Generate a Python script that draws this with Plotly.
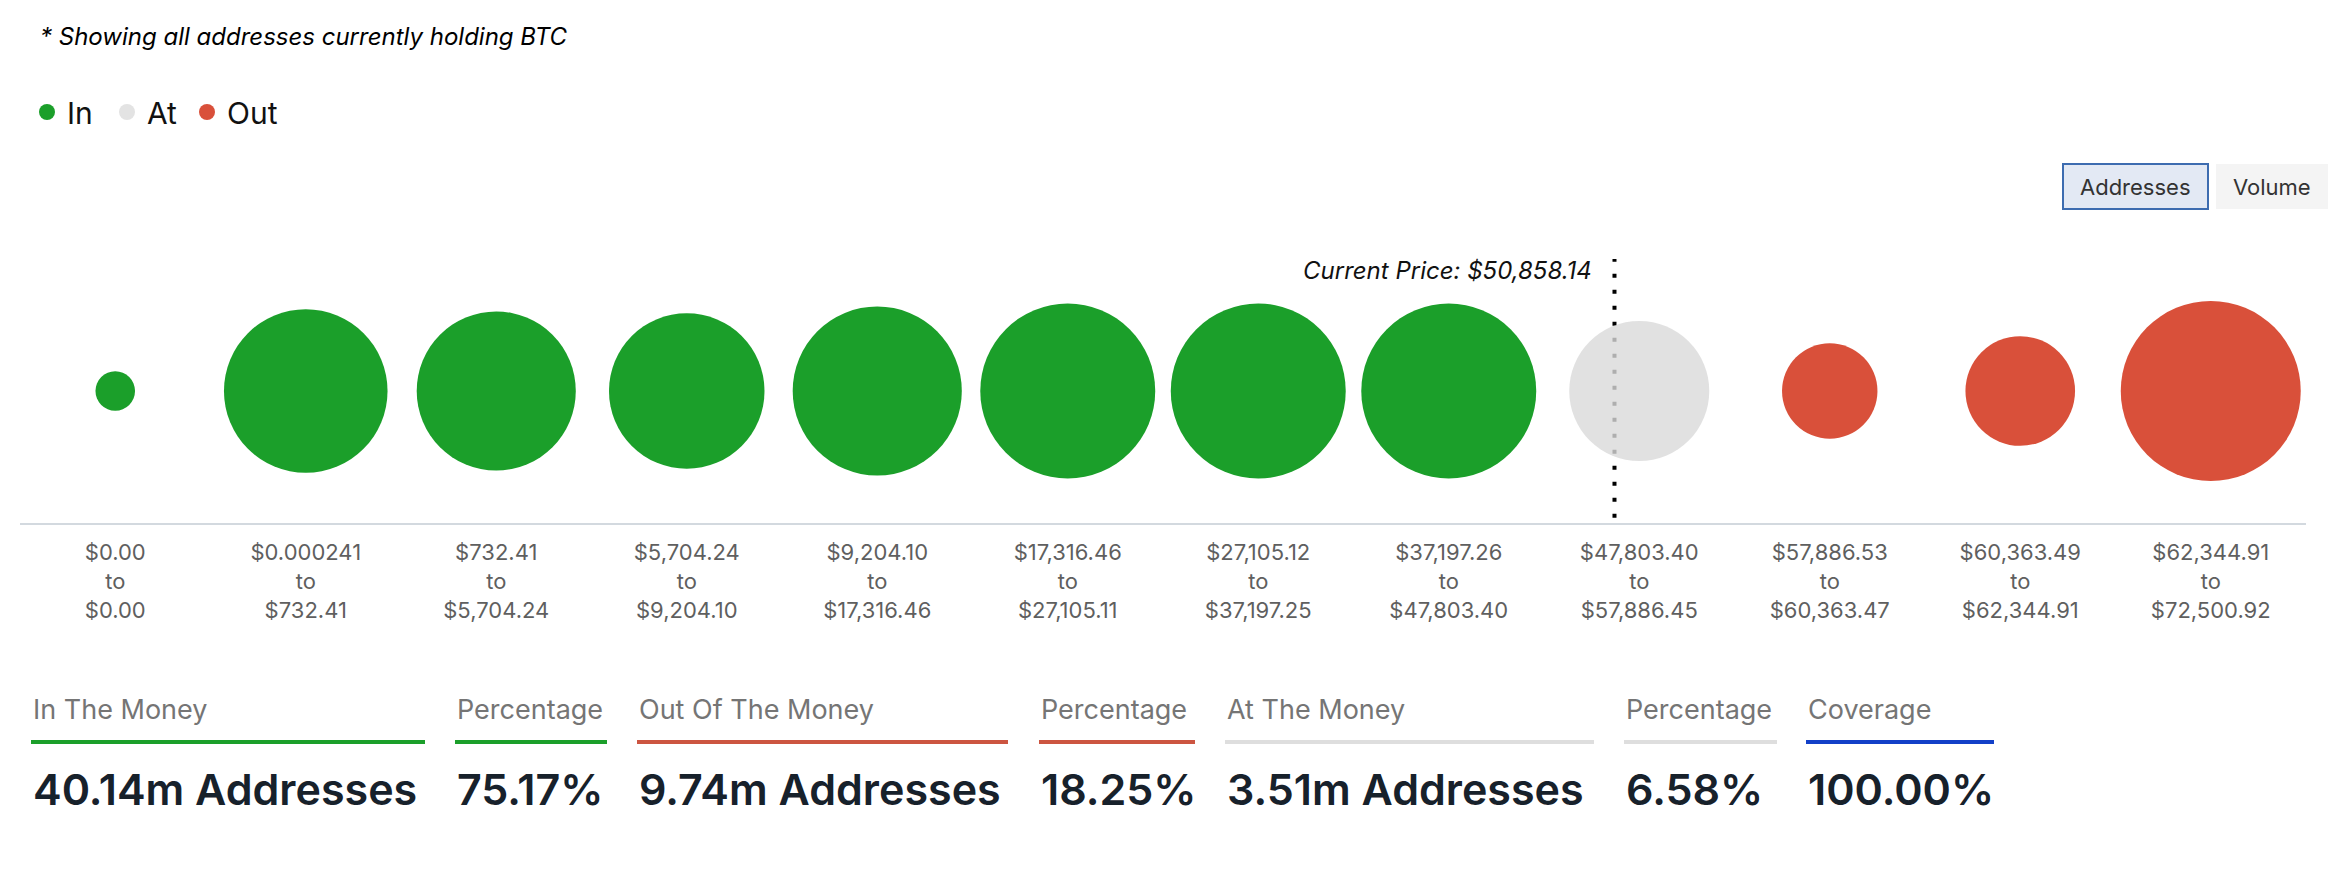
import plotly.graph_objects as go

# ---------------- data ----------------
bin_low = ["$0.00", "$0.000241", "$732.41", "$5,704.24", "$9,204.10", "$17,316.46",
           "$27,105.12", "$37,197.26", "$47,803.40", "$57,886.53", "$60,363.49", "$62,344.91"]
bin_high = ["$0.00", "$732.41", "$5,704.24", "$9,204.10", "$17,316.46", "$27,105.11",
            "$37,197.25", "$47,803.40", "$57,886.45", "$60,363.47", "$62,344.91", "$72,500.92"]
addresses_m = [0.28, 4.79, 4.53, 4.33, 5.12, 5.48, 5.48, 5.48, 3.51, 1.63, 2.15, 5.80]
status = ["In"] * 8 + ["At"] + ["Out"] * 3

current_price_label = "Current Price: $50,858.14"
current_bin = 8
current_offset = -0.13  # position of price line within its bin (fraction of a bin)

summary_headers = ["In The Money", "Percentage", "Out Of The Money", "Percentage",
                   "At The Money", "Percentage", "Coverage"]
summary_addresses_m = [40.14, 9.74, 3.51]
summary_pct = [75.17, 18.25, 6.58]
coverage_pct = 100.00

# ---------------- styling ----------------
OFF = 8                      # page body margin
W, H = 2342 - 2 * OFF, 876 - 2 * OFF
PLOT_L, PLOT_R, PLOT_T, PLOT_B = 20, 2306, 259, 523   # target page pixels
ML, MT = PLOT_L - OFF, PLOT_T - OFF
MR, MB = W - (PLOT_R - OFF), H - (PLOT_B - OFF)
PW, PH = W - ML - MR, H - MT - MB
FONT = "Inter, Roboto, 'DejaVu Sans', sans-serif"

GREEN = "#1b9f2a"
GRAY_AT = "rgba(218,218,218,0.80)"
RED = "#d9503a"
colors = {"In": GREEN, "At": GRAY_AT, "Out": RED}
legend_colors = {"In": GREEN, "At": "#e3e3e3", "Out": RED}
legend_ids = {"In": "legend", "At": "legend", "Out": "legend2"}


def px_x(px):
    return (px - OFF - ML) / PW


def px_y(py):
    return (H - MB - (py - OFF)) / PH


max_diam = 180
sizeref = 2.0 * max(addresses_m) / max_diam ** 2

fig = go.Figure()
for s in ["In", "At", "Out"]:
    idx = [i for i, st in enumerate(status) if st == s]
    fig.add_trace(go.Scatter(
        x=idx, y=[0] * len(idx), mode="markers", name=s,
        marker=dict(size=[addresses_m[i] for i in idx], sizemode="area", sizeref=sizeref,
                    color=colors[s], opacity=1, line=dict(width=0)),
        cliponaxis=False, hoverinfo="skip", showlegend=False,
    ))
    # legend entries
    fig.add_trace(go.Scatter(
        x=[None], y=[None], mode="markers", name=s, legend=legend_ids[s],
        marker=dict(size=16, color=legend_colors[s], opacity=1), showlegend=True,
    ))

ticktext = [f"{lo}<br>to<br>{hi}" for lo, hi in zip(bin_low, bin_high)]

shapes = []
annotations = []

# current price dotted line
price_x = current_bin + current_offset
shapes.append(dict(type="line", xref="x", yref="y", x0=price_x, x1=price_x,
                   y0=-0.96, y1=1.0, layer="below",
                   line=dict(color="#000000", width=4, dash="4px,12px")))
annotations.append(dict(x=price_x, y=0.91, xref="x", yref="y", xanchor="right", yanchor="middle",
                        xshift=-20, showarrow=False, text=current_price_label,
                        font=dict(family=FONT, size=24, color="#111111", style="italic")))

# toggle buttons
buttons = [("Addresses", 2063, 2208, "#e3e9f4", "#3d6cb0"), ("Volume", 2216, 2328, "#f4f4f4", None)]
for label, x0, x1, fill, border in buttons:
    shapes.append(dict(type="rect", xref="paper", yref="paper",
                       x0=px_x(x0), x1=px_x(x1), y0=px_y(209), y1=px_y(164),
                       fillcolor=fill, line=dict(color=border or fill, width=2 if border else 0)))
    annotations.append(dict(x=px_x((x0 + x1) / 2), y=px_y(187), xref="paper", yref="paper",
                            xanchor="center", yanchor="middle", showarrow=False, text=label,
                            font=dict(family=FONT, size=22, color="#333333")))

# summary row
summary_values = [f"{summary_addresses_m[0]:.2f}m Addresses", f"{summary_pct[0]:.2f}%",
                  f"{summary_addresses_m[1]:.2f}m Addresses", f"{summary_pct[1]:.2f}%",
                  f"{summary_addresses_m[2]:.2f}m Addresses", f"{summary_pct[2]:.2f}%",
                  f"{coverage_pct:.2f}%"]
summary_colors = [GREEN, GREEN, "#cc5541", "#cc5541", "#dedede", "#dedede", "#1240c8"]
col_x0 = [31, 455, 637, 1039, 1225, 1624, 1806]
col_x1 = [425, 607, 1008, 1195, 1594, 1777, 1994]
for hdr, val, col, x0, x1 in zip(summary_headers, summary_values, summary_colors, col_x0, col_x1):
    annotations.append(dict(x=px_x(x0), y=px_y(709), xref="paper", yref="paper",
                            xanchor="left", yanchor="middle", showarrow=False, text=hdr,
                            font=dict(family=FONT, size=27, color="#757575")))
    shapes.append(dict(type="rect", xref="paper", yref="paper",
                       x0=px_x(x0), x1=px_x(x1), y0=px_y(744), y1=px_y(740),
                       fillcolor=col, line=dict(width=0)))
    annotations.append(dict(x=px_x(x0), y=px_y(789), xref="paper", yref="paper",
                            xanchor="left", yanchor="middle", showarrow=False, text=val,
                            font=dict(family=FONT, size=43, color="#17212b", weight=600)))

legend_common = dict(orientation="h", xref="container", yref="container",
                     xanchor="left", y=1 - (112 - OFF) / H, yanchor="middle",
                     font=dict(family=FONT, size=30, color="#111111"),
                     itemsizing="trace", bgcolor="rgba(0,0,0,0)", itemclick=False)

fig.update_layout(
    width=W, height=H,
    margin=dict(l=ML, r=MR, t=MT, b=MB, pad=0),
    paper_bgcolor="white", plot_bgcolor="white",
    font=dict(family=FONT),
    title=dict(text="* Showing all addresses currently holding BTC",
               x=(40 - OFF) / W, xref="container", xanchor="left",
               y=1 - (37 - OFF) / H, yref="container", yanchor="middle",
               font=dict(family=FONT, size=24, color="#000000", style="italic")),
    showlegend=True,
    legend=dict(x=(27 - OFF) / W, entrywidth=35, entrywidthmode="pixels", **legend_common),
    legend2=dict(x=(187 - OFF) / W, **legend_common),
    xaxis=dict(range=[-0.5, 11.5], tickmode="array", tickvals=list(range(12)), ticktext=ticktext,
               showgrid=False, zeroline=False, showline=True, linecolor="#d3d9df", linewidth=2,
               ticks="outside", ticklen=9, tickcolor="rgba(0,0,0,0)",
               tickfont=dict(family=FONT, size=22, color="#5f5f5f"), fixedrange=True),
    yaxis=dict(range=[-1, 1], visible=False, fixedrange=True),
    shapes=shapes, annotations=annotations,
)

fig.write_html("out.html")
